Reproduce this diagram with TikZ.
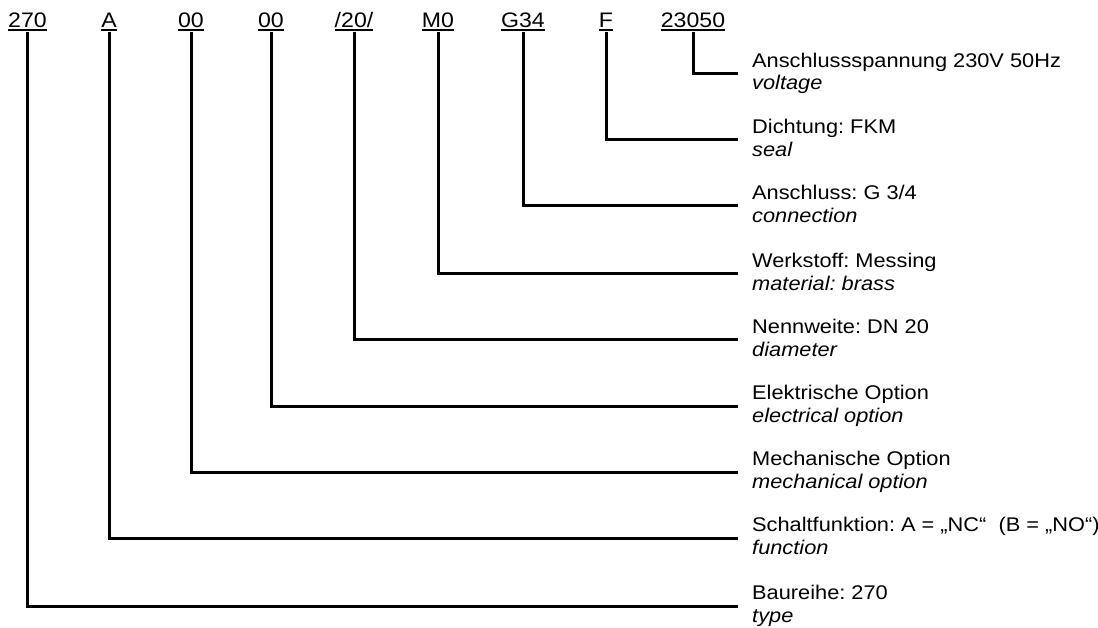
\documentclass[tikz,border=0pt]{standalone}
\usepackage{fontspec}
\setmainfont{Liberation Sans}[FakeStretch=1.1]
\newcommand\codeul[1]{\setbox0\hbox{#1}\rlap{\rule[-2.8pt]{\wd0}{1.6pt}}\box0}
\begin{document}
\frenchspacing
\begin{tikzpicture}[x=1pt,y=-1pt,
  code/.style={anchor=base,inner sep=0pt,outer sep=1.5pt,font=\fontsize{21}{25}\selectfont},
  de/.style={anchor=base west,inner sep=0pt,font=\fontsize{19.8}{23}\selectfont},
  en/.style={anchor=base west,inner sep=0pt,font=\fontsize{19.8}{23}\selectfont\itshape},
  conn/.style={line width=3pt,line cap=butt,line join=miter}]
\useasboundingbox (0,0) rectangle (1098,628);
% codes
\node[code] (c1) at (27.5,28) {\codeul{270}};
\node[code] (c2) at (109,28) {\codeul{A}};
\node[code] (c3) at (191,28) {\codeul{00}};
\node[code] (c4) at (271,28) {\codeul{00}};
\node[code] (c5) at (354,28) {\codeul{/20/}};
\node[code] (c6) at (438,28) {\codeul{M0}};
\node[code] (c7) at (523,28) {\codeul{G34}};
\node[code] (c8) at (606,28) {\codeul{F}};
\node[code] (c9) at (693,28) {\codeul{23050}};
% line ends
\coordinate (e9) at (738,73.5);
\coordinate (e8) at (738,140);
\coordinate (e7) at (738,206);
\coordinate (e6) at (738,274);
\coordinate (e5) at (738,340);
\coordinate (e4) at (738,406);
\coordinate (e3) at (738,472);
\coordinate (e2) at (738,538);
\coordinate (e1) at (738,606);
% labels
\node[de] (g9) at (752,67.2) {Anschlussspannung 230V 50Hz};
\node[en] (t9) at (752,90) {voltage};
\node[de] (g8) at (752,133.7) {Dichtung: FKM};
\node[en] (t8) at (752,156.5) {seal};
\node[de] (g7) at (752,199.7) {Anschluss: G 3/4};
\node[en] (t7) at (752,222.5) {connection};
\node[de] (g6) at (752,267.7) {Werkstoff: Messing};
\node[en] (t6) at (752,290.5) {material: brass};
\node[de] (g5) at (752,333.7) {Nennweite: DN 20};
\node[en] (t5) at (752,356.5) {diameter};
\node[de] (g4) at (752,399.7) {Elektrische Option};
\node[en] (t4) at (752,422.5) {electrical option};
\node[de] (g3) at (752,465.7) {Mechanische Option};
\node[en] (t3) at (752,488.5) {mechanical option};
\node[de] (g2) at (752,531.7) {Schaltfunktion: A = „NC“\ \ (B = „NO“)};
\node[en] (t2) at (752,554.5) {function};
\node[de] (g1) at (752,599.7) {Baureihe: 270};
\node[en] (t1) at (752,622.5) {type};
% connectors
\foreach \i in {1,...,9} {
  \draw[conn] (c\i.south) |- (e\i);
}
\end{tikzpicture}
\end{document}
